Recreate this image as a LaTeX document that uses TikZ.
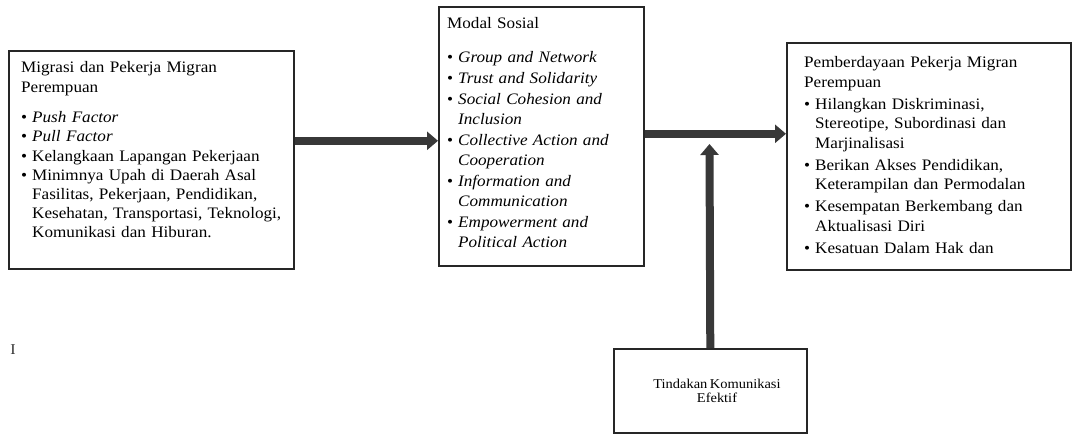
\documentclass[tikz,border=0pt]{standalone}
\usepackage{fontspec}
\setmainfont{Liberation Serif}[FakeStretch=1.07, WordSpace=0.7]
\usetikzlibrary{arrows.meta}
% bullet entry with a hanging indent for its wrapped lines
\newcommand\bitem[1]{\par\hangindent=11pt\hangafter=1\noindent\makebox[11pt][l]{\textbullet}#1\par}
\begin{document}
\begin{tikzpicture}[x=1pt,y=-1pt,
  box/.style={draw=black!85, line width=1.6pt, inner sep=0pt, anchor=north west},
  txt/.style={anchor=north west, inner sep=0pt, align=left, text=black},
  flow/.style={draw=black!78, line width=8pt, -{Triangle[length=11pt,width=18pt]}}]
\useasboundingbox (0,0) rectangle (1072,434);

% boxes
\node[box, minimum width=285pt, minimum height=218pt] (mig) at (8,50) {};
\node[box, minimum width=205pt, minimum height=259pt] (mod) at (438,6) {};
\node[box, minimum width=284pt, minimum height=227pt] (emp) at (786,42) {};
\node[box, minimum width=193pt, minimum height=84pt] (tin) at (613,348) {};

% box texts
\node[txt, text width=268pt, font=\fontsize{16}{19.2}\selectfont] (migtxt) at (21,61.5) {%
  Migrasi dan Pekerja Migran\par Perempuan\par\vspace{11.5pt}%
  \bitem{\textit{Push Factor}}
  \bitem{\textit{Pull Factor}}
  \bitem{Kelangkaan Lapangan Pekerjaan}
  \bitem{Minimnya Upah di Daerah Asal\newline Fasilitas, Pekerjaan, Pendidikan,\newline Kesehatan, Transportasi, Teknologi,\newline Komunikasi dan Hiburan.}};

\node[txt, text width=190pt, font=\fontsize{16}{20}\selectfont] (modtxt) at (447,17.5) {%
  Modal Sosial\par\vspace{13pt}\parskip=1pt
  \bitem{\textit{Group and Network}}
  \bitem{\textit{Trust and Solidarity}}
  \bitem{\textit{Social Cohesion and}\newline\textit{Inclusion}}
  \bitem{\textit{Collective Action and}\newline\textit{Cooperation}}
  \bitem{\textit{Information and}\newline\textit{Communication}}
  \bitem{\textit{Empowerment and}\newline\textit{Political Action}}};

\node[txt, text width=262pt, font=\fontsize{16}{19.5}\selectfont] (emptxt) at (804,56.5) {%
  Pemberdayaan Pekerja Migran\newline Perempuan\par\parskip=2.5pt
  \bitem{Hilangkan Diskriminasi,\newline Stereotipe, Subordinasi dan\newline Marjinalisasi}
  \bitem{Berikan Akses Pendidikan,\newline Keterampilan dan Permodalan}
  \bitem{Kesempatan Berkembang dan\newline Aktualisasi Diri}
  \bitem{Kesatuan Dalam Hak dan}};

\node[align=center, inner sep=0pt, text=black, font=\fontsize{13.5}{14.5}\selectfont] (tintxt) at (717,391) {Tindakan Komunikasi\\Efektif};

% stray mark at the left margin
\node[inner sep=0pt, text=black!80, font=\fontsize{15}{16}\selectfont] (mark) at (13,350) {I};

% connectors
\coordinate (la) at ([yshift=-4.5pt]mod.west);
\coordinate (ra) at ([yshift=2.5pt]mod.east);
\coordinate (meet) at (709.5,144);
\draw[flow] (mig.east |- la) -- (la);
\draw[flow] (ra) -- (emp.west |- ra);
\draw[flow] (tin.north) -- (meet);
\end{tikzpicture}
\end{document}
